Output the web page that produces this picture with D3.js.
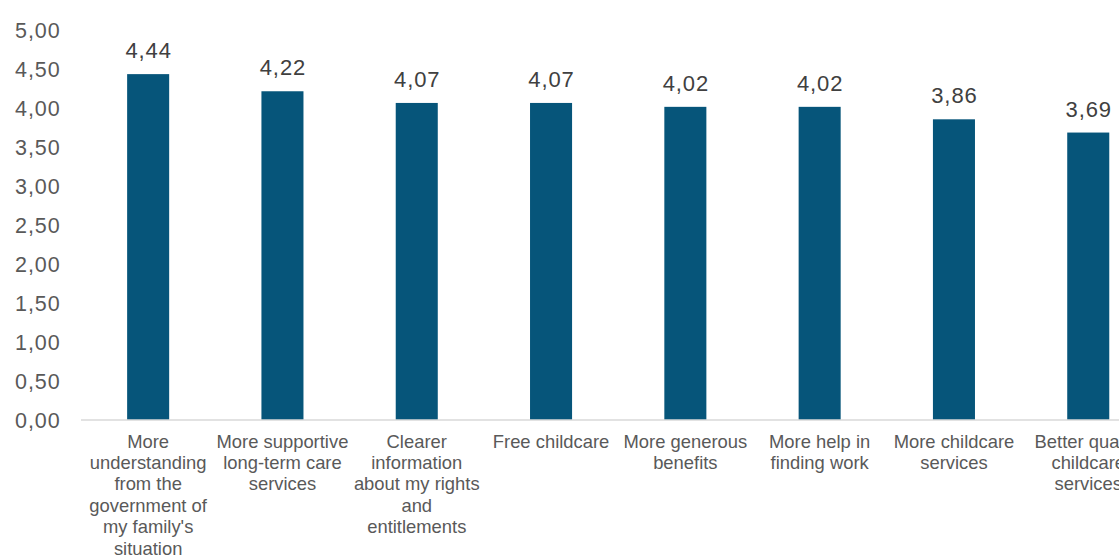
<!DOCTYPE html>
<html>
<head>
<meta charset="utf-8">
<script src="https://cdn.jsdelivr.net/npm/d3@7"></script>
<style>
  body { margin: 0; background: #fff; overflow: hidden; }
  svg { font-family: "Liberation Sans", Arial, sans-serif; }
</style>
</head>
<body>
<div class="canvas"></div>
<script>
// data
const categories = [
  "More understanding from the government of my family's situation",
  "More supportive long-term care services",
  "Clearer information about my rights and entitlements",
  "Free childcare",
  "More generous benefits",
  "More help in finding work",
  "More childcare services",
  "Better quality childcare services"
];
const values = [4.44, 4.22, 4.07, 4.07, 4.02, 4.02, 3.86, 3.69];
const yTicks = [0, 0.5, 1, 1.5, 2, 2.5, 3, 3.5, 4, 4.5, 5];

const width = 1119, height = 556;
const fmt = v => d3.format(".2f")(v).replace(".", ",");

const svg = d3.select('.canvas')
  .append('svg')
    .attr('width', width)
    .attr('height', height);

const x = d3.scaleBand()
  .domain(categories)
  .range([81, 81 + 8 * 134.3])
  .paddingInner(0.687)
  .paddingOuter(0.3435);

const y = d3.scaleLinear()
  .domain([0, 5])
  .range([420, 30.5]);

// y labels
svg.append('g')
  .selectAll('text')
  .data(yTicks)
  .enter()
  .append('text')
    .attr('x', 60.5)
    .attr('y', d => y(d))
    .attr('dy', '0.35em')
    .attr('text-anchor', 'end')
    .attr('font-size', 21.5)
    .attr('letter-spacing', 0.9)
    .attr('fill', '#595959')
    .text(fmt);

// bars
svg.append('g')
  .selectAll('rect')
  .data(values)
  .enter()
  .append('rect')
    .attr('x', (d, i) => x(categories[i]))
    .attr('width', x.bandwidth())
    .attr('y', d => y(d))
    .attr('height', d => y(0) - y(d))
    .attr('fill', '#06557a');

// baseline
svg.append('line')
  .attr('x1', 81).attr('x2', width)
  .attr('y1', y(0)).attr('y2', y(0))
  .attr('stroke', '#d9d9d9')
  .attr('stroke-width', 1.5);

// value labels
svg.append('g')
  .selectAll('text')
  .data(values)
  .enter()
  .append('text')
    .attr('x', (d, i) => x(categories[i]) + x.bandwidth() / 2 + 0.5)
    .attr('y', d => y(d) - 16)
    .attr('text-anchor', 'middle')
    .attr('font-size', 22)
    .attr('letter-spacing', 0.9)
    .attr('fill', '#404040')
    .text(fmt);

// category labels, wrapped to the band
const maxW = 133.5;
const labels = svg.append('g')
  .selectAll('text')
  .data(categories)
  .enter()
  .append('text')
    .attr('text-anchor', 'middle')
    .attr('font-size', 18.4)
    .attr('fill', '#595959')
    .attr('y', 447.5);

labels.each(function(d) {
  const t = d3.select(this);
  const cx = x(d) + x.bandwidth() / 2;
  const words = d.split(' ');
  let line = [];
  let lines = [];
  const probe = t.append('tspan');
  words.forEach(w => {
    const test = line.concat(w).join(' ');
    probe.text(test);
    if (probe.node().getComputedTextLength() > maxW && line.length) {
      lines.push(line.join(' '));
      line = [w];
    } else {
      line.push(w);
    }
  });
  lines.push(line.join(' '));
  probe.remove();
  lines.forEach((l, i) => {
    t.append('tspan')
      .attr('x', cx)
      .attr('y', 447.5 + i * 21.4)
      .text(l);
  });
});
</script>
</body>
</html>
